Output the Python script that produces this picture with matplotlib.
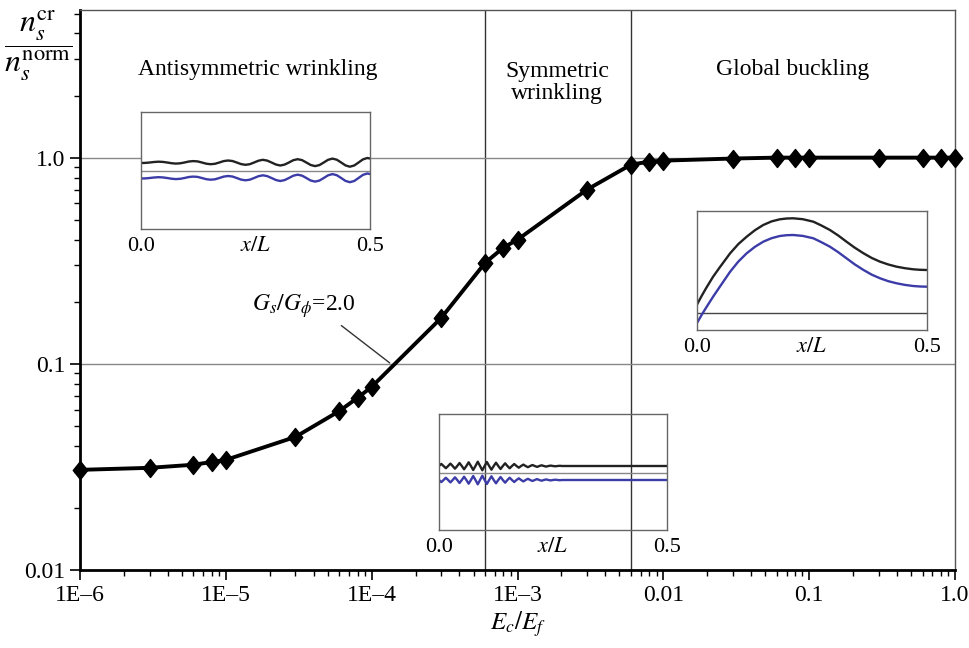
import matplotlib
matplotlib.use("Agg")
import matplotlib.pyplot as plt
from matplotlib.path import Path

plt.rcParams["font.family"] = ["Liberation Serif", "DejaVu Serif"]
plt.rcParams["mathtext.fontset"] = "stix"

# main curve: Gs/Gphi = 2.0
ec_ef = [1e-6, 3e-6, 6e-6, 8e-6, 1e-5, 3e-5, 6e-5, 8e-5, 1e-4, 3e-4, 6e-4, 8e-4,
         1e-3, 3e-3, 6e-3, 8e-3, 1e-2, 3e-2, 6e-2, 8e-2, 0.1, 0.3, 0.6, 0.8, 1.0]
ratio = [0.0306, 0.0313, 0.0324, 0.0334, 0.0342, 0.0442, 0.059, 0.0684, 0.0773,
         0.167, 0.309, 0.366, 0.40, 0.70, 0.925, 0.956, 0.967, 0.99, 1.0, 1.0,
         1.0, 1.0, 1.0, 1.0, 1.0]

x_ticks = [1e-6, 1e-5, 1e-4, 1e-3, 1e-2, 0.1, 1.0]
x_tick_labels = ["1E\u20136", "1E\u20135", "1E\u20134", "1E\u20133", "0.01", "0.1", "1.0"]
y_ticks = [0.01, 0.1, 1.0]
y_tick_labels = ["0.01", "0.1", "1.0"]
regime_bounds = [6e-4, 6e-3]
h_lines = [0.1, 1.0]

# inset 1: antisymmetric wrinkling mode shapes
anti_x = [0.0095 * k for k in range(53)] + [0.5]
anti_top = [66.0, 66.1, 66.5, 67.0, 67.3, 67.1, 66.5, 65.8, 65.4, 65.7, 66.5, 67.5,
            67.9, 67.6, 66.5, 65.3, 64.8, 65.2, 66.5, 67.9, 68.5, 68.0, 66.5, 64.9,
            64.2, 64.8, 66.5, 68.3, 69.2, 68.4, 66.5, 64.5, 63.5, 64.4, 66.5, 68.8,
            69.8, 68.9, 66.5, 64.0, 62.9, 63.9, 66.5, 69.2, 70.4, 69.3, 66.5, 63.6,
            62.3, 63.5, 66.5, 69.6, 71.0, 70.5]
anti_bot = [50.5, 50.6, 51.0, 51.5, 51.8, 51.6, 51.0, 50.3, 49.9, 50.2, 51.0, 52.0,
            52.4, 52.1, 51.0, 49.8, 49.3, 49.7, 51.0, 52.4, 53.0, 52.5, 51.0, 49.4,
            48.7, 49.3, 51.0, 52.8, 53.7, 52.9, 51.0, 49.0, 48.0, 48.9, 51.0, 53.3,
            54.3, 53.4, 51.0, 48.5, 47.4, 48.4, 51.0, 53.7, 54.9, 53.8, 51.0, 48.1,
            46.8, 48.0, 51.0, 54.1, 55.5, 55.0]
anti_ref = 58

# inset 2: symmetric wrinkling mode shapes
sym_x = [0.005 * k for k in range(55)] + [0.5]
sym_top = [64, 66.1, 64, 61.8, 64, 66.4, 64, 61.3, 64, 67.0, 64, 60.7, 64, 67.7,
           64, 60.0, 64, 68.3, 64, 59.7, 64, 68.0, 64, 60.3, 64, 67.3, 64, 61.0,
           64, 66.7, 64, 61.7, 64, 66.0, 64, 62.3, 64, 65.4, 64, 62.8, 64, 65.0,
           64, 63.1, 64, 64.7, 64, 63.4, 64, 64.4, 64, 63.7, 64, 64.2, 64, 64]
sym_bot = [50, 47.9, 50, 52.2, 50, 47.6, 50, 52.7, 50, 47.0, 50, 53.3, 50, 46.3,
           50, 54.0, 50, 45.7, 50, 54.3, 50, 46.0, 50, 53.7, 50, 46.7, 50, 53.0,
           50, 47.3, 50, 52.3, 50, 48.0, 50, 51.7, 50, 48.6, 50, 51.2, 50, 49.0,
           50, 50.9, 50, 49.3, 50, 50.6, 50, 49.6, 50, 50.3, 50, 49.8, 50, 50]
sym_ref = 57

# inset 3: global buckling mode shapes
glob_x = [0.0, 0.01, 0.02, 0.035, 0.05, 0.072, 0.09, 0.108, 0.126, 0.144, 0.162,
          0.180, 0.195, 0.209, 0.230, 0.253, 0.270, 0.289, 0.307, 0.325, 0.343,
          0.362, 0.380, 0.398, 0.416, 0.434, 0.452, 0.470, 0.485, 0.5]
glob_top = [25.5, 34.0, 42.0, 53.3, 63.0, 76.7, 86.0, 93.3, 99.8, 105.0, 108.6,
            110.7, 111.5, 111.7, 110.8, 108.3, 104.6, 100.0, 94.5, 88.3, 82.3,
            76.7, 72.0, 68.3, 65.5, 63.3, 61.8, 60.7, 60.2, 60.0]
glob_bot = [7.0, 15.0, 22.5, 33.3, 43.5, 58.3, 68.5, 76.7, 83.2, 88.3, 91.8,
            94.0, 94.8, 95.0, 94.1, 91.7, 87.9, 83.3, 77.8, 71.7, 65.6,
            60.0, 55.3, 51.7, 48.8, 46.7, 45.1, 44.0, 43.5, 43.3]
glob_ref = 17

BLUE = "#3c3ca8"
diamond = Path([(0, 1), (0.8, 0), (0, -1), (-0.8, 0), (0, 1)],
               [Path.MOVETO, Path.LINETO, Path.LINETO, Path.LINETO, Path.CLOSEPOLY])

fig = plt.figure(figsize=(9.7, 6.48), dpi=100)
ax = fig.add_axes([80 / 970, 78 / 648, 875 / 970, 560 / 648])

for v in regime_bounds:
    ax.axvline(v, color="#333333", lw=1.0, zorder=1)
for h in h_lines:
    ax.axhline(h, color="#888888", lw=1.0, zorder=1)

ax.plot(ec_ef, ratio, color="black", lw=2.8, marker=diamond, markersize=13,
        markerfacecolor="black", markeredgecolor="black", zorder=5, clip_on=False)

ax.set_xscale("log")
ax.set_yscale("log")
ax.set_xlim(1e-6, 1.0)
ax.set_ylim(0.01, 5.2)
ax.set_xticks(x_ticks)
ax.set_xticklabels(x_tick_labels)
ax.set_yticks(y_ticks)
ax.set_yticklabels(y_tick_labels)
ax.tick_params(which="major", labelsize=17, length=7, width=1.2, direction="out")
ax.tick_params(which="minor", length=4, width=1.0, direction="out")
ax.tick_params(axis="x", pad=4)
for s in ["left", "bottom"]:
    ax.spines[s].set_linewidth(2.0)
for s in ["top", "right"]:
    ax.spines[s].set_linewidth(1.0)
    ax.spines[s].set_color("#555555")

ax.set_xlabel(r"$E_c/E_f$", fontsize=18, labelpad=2)
fig.text(38 / 970, 1 - 46 / 648, r"$\dfrac{n_s^{\rm cr}}{n_s^{\rm norm}}$",
         fontsize=23, ha="center", va="center")

ax.text(0.203, 0.893, "Antisymmetric wrinkling", transform=ax.transAxes,
        fontsize=17, ha="center", va="center")
ax.text(0.545, 0.871, "Symmetric\nwrinkling", transform=ax.transAxes,
        fontsize=17, ha="center", va="center", linespacing=1.05)
ax.text(0.814, 0.893, "Global buckling", transform=ax.transAxes,
        fontsize=17, ha="center", va="center")

ax.annotate(r"$G_s/G_\phi$=2.0", xy=(1.33e-4, 0.101), xytext=(3.4e-5, 0.19),
            fontsize=17, ha="center", va="center",
            arrowprops=dict(arrowstyle="-", color="#333333", lw=1.0,
                            relpos=(0.8, 0.0), shrinkA=3, shrinkB=0))


def add_inset(rect, x, top, bot, ref, ref_color, ymax, face):
    ins = fig.add_axes(rect, facecolor=face)
    ins.axhline(ref, color=ref_color, lw=1.0)
    ins.plot(x, top, color="#222222", lw=1.7)
    ins.plot(x, bot, color=BLUE, lw=1.7)
    ins.set_xlim(0, 0.5)
    ins.set_ylim(0, ymax)
    ins.set_xticks([0, 0.25, 0.5])
    ins.set_xticklabels(["0.0", "$x/L$", "0.5"])
    ins.tick_params(axis="x", length=0, labelsize=16, pad=6)
    ins.set_yticks([])
    for s in ins.spines.values():
        s.set_color("#666666")
        s.set_linewidth(1.0)
    return ins


add_inset([141 / 970, 419 / 648, 229 / 970, 117 / 648],
          anti_x, anti_top, anti_bot, anti_ref, "#888888", 117, "white")
add_inset([439 / 970, 118 / 648, 228 / 970, 116 / 648],
          sym_x, sym_top, sym_bot, sym_ref, "#888888", 116, "none")
add_inset([697 / 970, 318 / 648, 230 / 970, 119 / 648],
          glob_x, glob_top, glob_bot, glob_ref, "#444444", 119, "white")

fig.savefig("out.png", dpi=100)
